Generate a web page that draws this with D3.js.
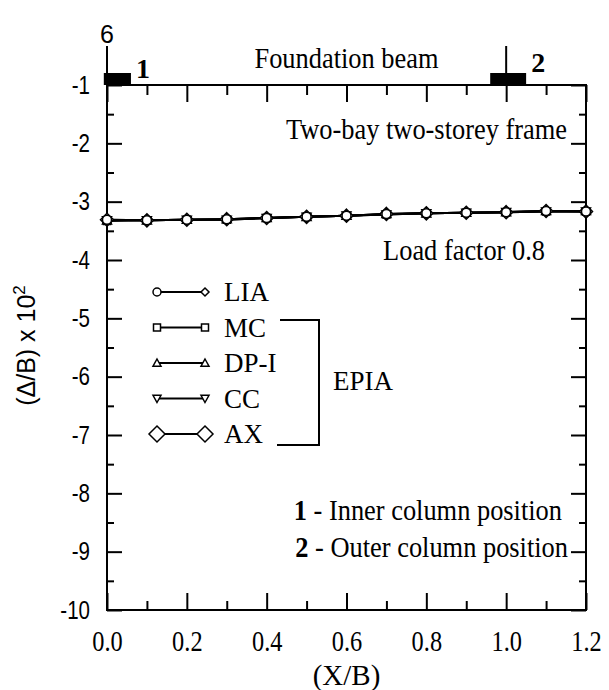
<!DOCTYPE html>
<html>

<head>
    <meta charset="utf-8">
    <title>Settlement along foundation beam</title>
    <style>
        body { margin: 0; background: #fff; }
        .serif { font-family: "Liberation Serif", "Times New Roman", serif; }
        .sans { font-family: "Liberation Sans", Arial, sans-serif; }
        .axis path { display: none; }
        .axis line { stroke: #000; stroke-width: 2; }
    </style>
    <script src="https://cdn.jsdelivr.net/npm/d3@7"></script>
</head>

<body>
    <script>
        // data
        var xb = [0.0, 0.1, 0.2, 0.3, 0.4, 0.5, 0.6, 0.7, 0.8, 0.9, 1.0, 1.1, 1.2];
        var lia = [-3.31, -3.32, -3.31, -3.30, -3.28, -3.26, -3.24, -3.21, -3.20, -3.19, -3.18, -3.16, -3.17];
        var mc  = [-3.33, -3.32, -3.31, -3.31, -3.28, -3.26, -3.24, -3.22, -3.20, -3.19, -3.18, -3.17, -3.17];
        var dpi = [-3.32, -3.32, -3.31, -3.30, -3.28, -3.26, -3.24, -3.21, -3.20, -3.19, -3.18, -3.16, -3.16];
        var cc  = [-3.32, -3.32, -3.31, -3.31, -3.28, -3.26, -3.24, -3.22, -3.20, -3.19, -3.18, -3.17, -3.17];
        var ax  = [-3.31, -3.32, -3.31, -3.30, -3.28, -3.26, -3.24, -3.21, -3.20, -3.19, -3.18, -3.16, -3.17];

        var seriesNames = ["LIA", "MC", "DP-I", "CC", "AX"];
        var xTicks = [0.0, 0.2, 0.4, 0.6, 0.8, 1.0, 1.2];
        var xMinor = [0.1, 0.3, 0.5, 0.7, 0.9, 1.1];
        var yTicks = [-1, -2, -3, -4, -5, -6, -7, -8, -9, -10];
        var yMinor = [-1.5, -2.5, -3.5, -4.5, -5.5, -6.5, -7.5, -8.5, -9.5];

        // column positions on the beam
        var colLabels = ["1", "2"];
        var colX = [0.0, 1.0];
        var footFrom = [-0.008, 0.96];
        var footTo = [0.06, 1.05];

        var margin = { top: 85, right: 23, bottom: 80, left: 107 },
            width = 609 - margin.left - margin.right,
            height = 690 - margin.top - margin.bottom;

        var x = d3.scaleLinear().domain([0, 1.2]).range([0, width]);
        var y = d3.scaleLinear().domain([-10, -1]).range([height, 0]);

        var svg = d3.select("body").append("svg")
            .attr("width", 609)
            .attr("height", 690)
            .append("g")
            .attr("transform", "translate(" + margin.left + "," + margin.top + ")");

        // squeeze text a bit, the original font is narrower
        function condense(sel, k) {
            sel.each(function() {
                var n = this.getComputedTextLength();
                d3.select(this).attr("textLength", n * k).attr("lengthAdjust", "spacingAndGlyphs");
            });
        }

        // frame
        svg.append("rect")
            .attr("width", width).attr("height", height)
            .attr("fill", "none").attr("stroke", "#000").attr("stroke-width", 2);

        // bottom axis (ticks inward)
        var bx = svg.append("g").attr("class", "axis serif")
            .attr("transform", "translate(0," + height + ")")
            .call(d3.axisBottom(x).tickValues(xTicks).tickSize(-17).tickSizeOuter(0).tickPadding(20)
                .tickFormat(d3.format(".1f")));
        bx.selectAll("text").attr("font-size", 29).attr("fill", "#000")
            .style("font-family", "Liberation Serif, serif");
        condense(bx.selectAll("text"), 0.84);
        svg.append("g").attr("class", "axis")
            .attr("transform", "translate(0," + height + ")")
            .call(d3.axisBottom(x).tickValues(xMinor).tickSize(-9).tickSizeOuter(0).tickFormat(""));

        // top axis
        svg.append("g").attr("class", "axis")
            .call(d3.axisTop(x).tickValues(xTicks).tickSize(-17).tickSizeOuter(0).tickFormat(""));
        svg.append("g").attr("class", "axis")
            .call(d3.axisTop(x).tickValues(xMinor).tickSize(-10).tickSizeOuter(0).tickFormat(""));

        // left axis, plain hyphen as in the original
        var ly = svg.append("g").attr("class", "axis sans")
            .call(d3.axisLeft(y).tickValues(yTicks).tickSize(-15).tickSizeOuter(0).tickPadding(17)
                .tickFormat(function(d) { return String(d); }));
        ly.selectAll("text").attr("font-size", 25).attr("fill", "#000")
            .style("font-family", "Liberation Sans, Arial, sans-serif");
        condense(ly.selectAll("text"), 0.82);
        svg.append("g").attr("class", "axis")
            .call(d3.axisLeft(y).tickValues(yMinor).tickSize(-7).tickSizeOuter(0).tickFormat(""));

        // right axis
        svg.append("g").attr("class", "axis")
            .attr("transform", "translate(" + width + ",0)")
            .call(d3.axisRight(y).tickValues(yTicks).tickSize(-15).tickSizeOuter(0).tickFormat(""));
        svg.append("g").attr("class", "axis")
            .attr("transform", "translate(" + width + ",0)")
            .call(d3.axisRight(y).tickValues(yMinor).tickSize(-7).tickSizeOuter(0).tickFormat(""));

        // stray label above the axis
        svg.append("text")
            .attr("x", 0).attr("y", -42).attr("text-anchor", "middle")
            .style("font-family", "Liberation Sans, Arial, sans-serif")
            .style("font-size", "25px").text("6");

        // columns and footings
        colX.forEach(function(c, i) {
            svg.append("line")
                .attr("x1", x(c)).attr("x2", x(c))
                .attr("y1", -39).attr("y2", 0)
                .attr("stroke", "#000").attr("stroke-width", 2);
            svg.append("rect")
                .attr("x", x(footFrom[i])).attr("y", -12)
                .attr("width", x(footTo[i]) - x(footFrom[i])).attr("height", 12)
                .attr("fill", "#000");
            svg.append("text").attr("class", "serif")
                .attr("x", x(footTo[i]) + 5).attr("y", i === 0 ? -7 : -13)
                .attr("font-size", 28).attr("font-weight", "bold")
                .text(colLabels[i]);
        });

        // marker shapes
        function markerPath(type, r) {
            if (type === "circle") return d3.symbol().type(d3.symbolCircle).size(Math.PI * r * r)();
            if (type === "square") return "M" + (-r) + "," + (-r) + "h" + 2 * r + "v" + 2 * r + "h" + (-2 * r) + "Z";
            if (type === "up") return "M0," + (-r) + "L" + r + "," + (r * 0.8) + "L" + (-r) + "," + (r * 0.8) + "Z";
            if (type === "down") return "M0," + r + "L" + r + "," + (-r * 0.8) + "L" + (-r) + "," + (-r * 0.8) + "Z";
            return "M0," + (-r) + "L" + r + ",0L0," + r + "L" + (-r) + ",0Z";
        }
        var shapes = ["circle", "square", "up", "down", "diamond"];
        var plotR = [4.5, 3.5, 4.5, 4.5, 6.5];
        var allSeries = [lia, mc, dpi, cc, ax];

        var line = d3.line()
            .x(function(d) { return x(d[0]); })
            .y(function(d) { return y(d[1]); });

        allSeries.forEach(function(s) {
            svg.append("path")
                .datum(xb.map(function(v, i) { return [v, s[i]]; }))
                .attr("fill", "none").attr("stroke", "#000").attr("stroke-width", 2)
                .attr("d", line);
        });
        // draw biggest first so the outlines stack into a star
        [4, 1, 2, 3, 0].forEach(function(k) {
            svg.append("g").selectAll("path")
                .data(xb.map(function(v, i) { return [v, allSeries[k][i]]; }))
                .enter().append("path")
                .attr("transform", function(d) { return "translate(" + x(d[0]) + "," + y(d[1]) + ")"; })
                .attr("d", markerPath(shapes[k], plotR[k]))
                .attr("fill", "#fff").attr("stroke", "#000").attr("stroke-width", 1.5);
        });

        // legend
        var leg = svg.append("g");
        var legR = [4, 3.5, 4, 4, 8];
        seriesNames.forEach(function(name, i) {
            var ry = 207 + i * 35.5;
            var x1 = 50, x2 = 98;
            leg.append("line").attr("x1", x1).attr("x2", x2).attr("y1", ry).attr("y2", ry)
                .attr("stroke", "#000").attr("stroke-width", 2);
            leg.append("path").attr("transform", "translate(" + x1 + "," + ry + ")")
                .attr("d", markerPath(shapes[i], legR[i]))
                .attr("fill", "#fff").attr("stroke", "#000").attr("stroke-width", 1.5);
            leg.append("path").attr("transform", "translate(" + x2 + "," + ry + ")")
                .attr("d", markerPath(i === 0 ? "diamond" : shapes[i], legR[i]))
                .attr("fill", "#fff").attr("stroke", "#000").attr("stroke-width", 1.5);
            leg.append("text").attr("class", "serif")
                .attr("x", 117).attr("y", ry + 9)
                .attr("font-size", 27).text(name);
        });
        // bracket grouping the EPIA methods
        leg.append("path")
            .attr("d", "M173,235H212V360H170")
            .attr("fill", "none").attr("stroke", "#000").attr("stroke-width", 2);
        leg.append("text").attr("class", "serif")
            .attr("x", 226).attr("y", 305).attr("font-size", 27).text("EPIA");

        // annotations
        var ann = svg.append("g").attr("class", "serif").attr("font-size", 29);
        ann.append("text").attr("x", width / 2).attr("y", -17).attr("text-anchor", "middle")
            .text("Foundation beam");
        ann.append("text").attr("x", 460).attr("y", 54).attr("text-anchor", "end")
            .text("Two-bay two-storey frame");
        ann.append("text").attr("x", 438).attr("y", 175).attr("text-anchor", "end")
            .text("Load factor 0.8");
        var t1 = ann.append("text").attr("x", 455).attr("y", 435).attr("text-anchor", "end");
        t1.append("tspan").attr("font-weight", "bold").text("1");
        t1.append("tspan").text(" - Inner column position");
        var t2 = ann.append("text").attr("x", 461).attr("y", 472).attr("text-anchor", "end");
        t2.append("tspan").attr("font-weight", "bold").text("2");
        t2.append("tspan").text(" - Outer column position");
        condense(ann.selectAll("text"), 0.91);

        // axis titles
        svg.append("text").attr("class", "serif")
            .attr("x", width / 2).attr("y", height + 75).attr("text-anchor", "middle")
            .attr("font-size", 29).text("(X/B)");
        var yl = svg.append("text")
            .attr("transform", "translate(-72," + (height / 2 - 2) + ") rotate(-90)")
            .attr("text-anchor", "middle")
            .style("font-family", "Liberation Sans, Arial, sans-serif")
            .attr("font-size", 25);
        yl.append("tspan").text("(\u0394/B) x 10");
        yl.append("tspan").attr("dy", -10).attr("font-size", 17).text("2");
    </script>
</body>

</html>
